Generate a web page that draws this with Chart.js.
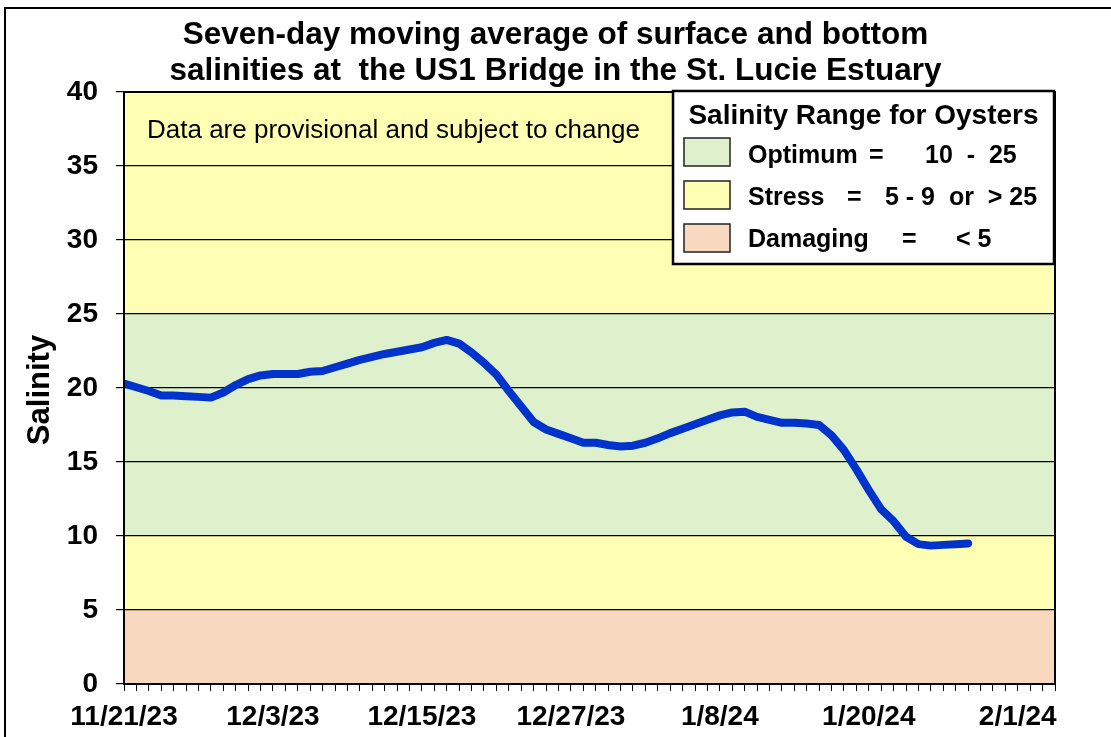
<!DOCTYPE html>
<html>
<head>
<meta charset="utf-8">
<script src="https://cdn.jsdelivr.net/npm/chart.js@4.4.1/dist/chart.umd.min.js"></script>
<style>
  html, body { margin: 0; padding: 0; background: #fff; }
</style>
</head>
<body>
<canvas id="salinityChart" width="1111" height="737"></canvas>
<script>
// daily dates (seven-day moving average values)
const dates = [
  '11/21/23','11/22/23','11/23/23','11/24/23','11/25/23','11/26/23','11/27/23','11/28/23','11/29/23','11/30/23',
  '12/1/23','12/2/23','12/3/23','12/4/23','12/5/23','12/6/23','12/7/23','12/8/23','12/9/23','12/10/23',
  '12/11/23','12/12/23','12/13/23','12/14/23','12/15/23','12/16/23','12/17/23','12/18/23','12/19/23','12/20/23',
  '12/21/23','12/22/23','12/23/23','12/24/23','12/25/23','12/26/23','12/27/23','12/28/23','12/29/23','12/30/23',
  '12/31/23','1/1/24','1/2/24','1/3/24','1/4/24','1/5/24','1/6/24','1/7/24','1/8/24','1/9/24',
  '1/10/24','1/11/24','1/12/24','1/13/24','1/14/24','1/15/24','1/16/24','1/17/24','1/18/24','1/19/24',
  '1/20/24','1/21/24','1/22/24','1/23/24','1/24/24','1/25/24','1/26/24','1/27/24','1/28/24'
];
const salinity = [
  20.3, 20.05, 19.8, 19.5, 19.5, 19.45, 19.4, 19.35, 19.7, 20.2,
  20.6, 20.85, 20.95, 20.95, 20.95, 21.1, 21.15, 21.4, 21.65, 21.9,
  22.1, 22.3, 22.45, 22.6, 22.75, 23.05, 23.25, 23.0, 22.4, 21.7,
  20.9, 19.8, 18.75, 17.7, 17.2, 16.9, 16.6, 16.3, 16.3, 16.15,
  16.05, 16.1, 16.3, 16.6, 16.95, 17.25, 17.55, 17.85, 18.15, 18.35,
  18.4, 18.05, 17.85, 17.65, 17.65, 17.6, 17.5, 16.8, 15.8, 14.5,
  13.1, 11.8, 11.0, 9.95, 9.45, 9.35, 9.4, 9.45, 9.5
];
const xTickLabels = ['11/21/23', '12/3/23', '12/15/23', '12/27/23', '1/8/24', '1/20/24', '2/1/24'];
const xDaysShown = 75;
const xLabelEvery = 12;

// oyster salinity bands (bottom, top)
const bandEdges = [0, 5, 10, 25, 40];
const bandColors = ['#F9D8C0', '#FFFFB3', '#DEF0CC', '#FFFFB3'];

const titleLines = ['Seven-day moving average of surface and bottom',
                    'salinities at  the US1 Bridge in the St. Lucie Estuary'];
const noteText = 'Data are provisional and subject to change';
const legendTitle = 'Salinity Range for Oysters';
const legendLabels = ['Optimum', 'Stress', 'Damaging'];
const legendRanges = ['10  -  25', '5 - 9  or  > 25', '< 5'];
const legendColors = ['#DEF0CC', '#FFFFB3', '#F9D8C0'];

const FONT = '"Liberation Sans", Arial, sans-serif';

function dayIndex(s) {
  const [m, d, y] = s.split('/').map(Number);
  return Math.round((Date.UTC(2000 + y, m - 1, d) - Date.UTC(2023, 10, 21)) / 86400000);
}

const points = dates.map((d, i) => ({ x: dayIndex(d), y: salinity[i] }));

const decorations = {
  id: 'decorations',
  beforeDraw(chart) {
    const { ctx, chartArea: a, scales: { y } } = chart;
    ctx.save();
    ctx.fillStyle = '#fff';
    ctx.fillRect(0, 0, chart.width, chart.height);
    for (let i = 0; i < bandColors.length; i++) {
      const top = y.getPixelForValue(bandEdges[i + 1]);
      const bot = y.getPixelForValue(bandEdges[i]);
      ctx.fillStyle = bandColors[i];
      ctx.fillRect(a.left, top, a.right - a.left, bot - top);
    }
    ctx.restore();
  },
  afterDraw(chart) {
    const { ctx, chartArea: a } = chart;
    ctx.save();
    // plot frame
    ctx.strokeStyle = '#000';
    ctx.lineWidth = 2;
    ctx.strokeRect(a.left, a.top, a.right - a.left, a.bottom - a.top);

    // outer frame (top and left visible)
    ctx.beginPath();
    ctx.moveTo(5, chart.height);
    ctx.lineTo(5, 8);
    ctx.lineTo(chart.width, 8);
    ctx.stroke();

    // title
    ctx.fillStyle = '#000';
    ctx.textAlign = 'center';
    ctx.textBaseline = 'alphabetic';
    ctx.font = 'bold 31.5px ' + FONT;
    ctx.fillText(titleLines[0], 555.5, 44);
    ctx.fillText(titleLines[1], 555.5, 80);

    // note
    ctx.textAlign = 'left';
    ctx.font = '26px ' + FONT;
    ctx.fillText(noteText, 147, 138);

    // y axis title
    ctx.save();
    ctx.font = 'bold 31px ' + FONT;
    ctx.translate(38 + 11, 390);
    ctx.rotate(-Math.PI / 2);
    ctx.textAlign = 'center';
    ctx.fillText('Salinity', 0, 0);
    ctx.restore();

    // legend box
    ctx.fillStyle = '#fff';
    ctx.fillRect(673, 91, 381, 173);
    ctx.lineWidth = 2.5;
    ctx.strokeRect(673, 91, 381, 173);
    ctx.fillStyle = '#000';
    ctx.textAlign = 'center';
    ctx.font = 'bold 28px ' + FONT;
    ctx.fillText(legendTitle, 863.5, 124);

    const swTop = [138, 181, 224];
    const base = [163, 205, 247];
    const eqX = [869, 847, 902];
    const rangeX = [925, 885, 956];
    ctx.font = 'bold 25px ' + FONT;
    ctx.textAlign = 'left';
    for (let i = 0; i < legendLabels.length; i++) {
      ctx.fillStyle = legendColors[i];
      ctx.fillRect(684, swTop[i], 46, 28);
      ctx.lineWidth = 1.5;
      ctx.strokeStyle = '#222';
      ctx.strokeRect(684, swTop[i], 46, 28);
      ctx.fillStyle = '#000';
      ctx.fillText(legendLabels[i], 748, base[i]);
      ctx.fillText('=', eqX[i], base[i]);
      ctx.fillText(legendRanges[i], rangeX[i], base[i]);
    }
    ctx.restore();
  }
};

new Chart(document.getElementById('salinityChart'), {
  type: 'line',
  data: {
    datasets: [{
      label: 'Salinity',
      data: points,
      borderColor: '#0033CC',
      borderWidth: 8,
      borderCapStyle: 'round',
      borderJoinStyle: 'round',
      pointRadius: 0,
      tension: 0,
      fill: false
    }]
  },
  options: {
    responsive: false,
    animation: false,
    layout: { padding: { top: 92, right: 56, left: 0, bottom: 0 } },
    plugins: { legend: { display: false }, title: { display: false }, tooltip: { enabled: false } },
    scales: {
      x: {
        type: 'linear',
        min: 0,
        max: xDaysShown,
        afterFit(scale) { scale.height = 53; },
        grid: { drawOnChartArea: false, color: '#000', tickLength: 7, lineWidth: 1 },
        border: { color: '#000', width: 2 },
        ticks: {
          stepSize: 1,
          autoSkip: false,
          maxRotation: 0,
          padding: 9,
          color: '#000',
          font: { family: FONT, size: 28, weight: 'bold' },
          callback: v => (v % xLabelEvery === 0 ? (xTickLabels[v / xLabelEvery] || '') : '')
        }
      },
      y: {
        min: 0,
        max: 40,
        afterFit(scale) { scale.width = 124; },
        grid: { color: '#000', lineWidth: 1.2, tickLength: 8 },
        border: { color: '#000', width: 2 },
        ticks: {
          stepSize: 5,
          padding: 18,
          color: '#000',
          font: { family: FONT, size: 28, weight: 'bold' }
        }
      }
    }
  },
  plugins: [decorations]
});
</script>
</body>
</html>
